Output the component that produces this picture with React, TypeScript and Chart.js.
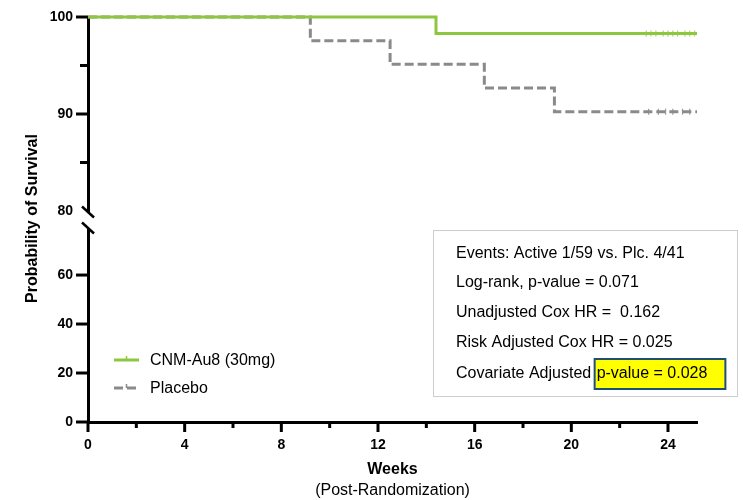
import React, { useEffect, useRef } from "react";
import { Chart, registerables } from "chart.js";

Chart.register(...registerables);

// ---- data ----
const weekTicks = [0, 4, 8, 12, 16, 20, 24];
const weekMinorTicks = [2, 6, 10, 14, 18, 22];
const topTicks = [80, 85, 90, 95, 100];
const topLabeledTicks = [80, 90, 100];
const bottomTicks = [0, 20, 40, 60];

const seriesNames = ["CNM-Au8 (30mg)", "Placebo"];
const cnmWeeks = [0, 14.4, 25.2];
const cnmSurvival = [100, 98.3, 98.3];
const placeboWeeks = [0, 9.2, 12.5, 16.4, 19.3, 25.2];
const placeboSurvival = [100, 97.56, 95.12, 92.68, 90.24, 90.24];
const cnmCensorWeeks = [23.1, 23.3, 23.5, 23.8, 24.0, 24.2, 24.4, 24.7, 24.9, 25.1];
const placeboCensorWeeks = [23.2, 23.6, 23.9, 24.2, 24.6, 24.9];

const statsLines = [
  "Events: Active 1/59 vs. Plc. 4/41",
  "Log-rank, p-value = 0.071",
  "Unadjusted Cox HR =  0.162",
  "Risk Adjusted Cox HR = 0.025",
  "Covariate Adjusted ",
];
const statsHighlight = "p-value = 0.028";
const yTitle = "Probability of Survival";
const xTitle = "Weeks";
const xSubTitle = "(Post-Randomization)";

const GREEN = "#8dc63f";
const GRAY = "#8a8a8a";
const FONT = "'Liberation Sans', Arial, sans-serif";

const decorPlugin = {
  id: "decor",
  beforeDatasetsDraw(chart: any) {
    const ctx = chart.ctx;
    const x = chart.scales.x;
    const yTop = chart.scales.yTop;
    const yBot = chart.scales.yBottom;
    const axisX = chart.chartArea.left;
    const axisY = chart.chartArea.bottom;
    ctx.save();
    ctx.strokeStyle = "#000";
    ctx.lineWidth = 3;
    ctx.lineCap = "butt";
    const hline = (py: number, len: number) => {
      ctx.beginPath();
      ctx.moveTo(axisX - len, py);
      ctx.lineTo(axisX, py);
      ctx.stroke();
    };
    topTicks.forEach((v) => {
      if (v === 80) return;
      hline(yTop.getPixelForValue(v), topLabeledTicks.includes(v) ? 12 : 8);
    });
    bottomTicks.forEach((v) => hline(yBot.getPixelForValue(v), 12));
    const vline = (px: number, len: number) => {
      ctx.beginPath();
      ctx.moveTo(px, axisY);
      ctx.lineTo(px, axisY + len);
      ctx.stroke();
    };
    weekTicks.forEach((w) => vline(x.getPixelForValue(w), 10));
    weekMinorTicks.forEach((w) => vline(x.getPixelForValue(w), 6));
    // axis break marks
    const b1 = yTop.bottom;
    const b2 = yBot.top;
    ctx.lineWidth = 2.5;
    [b1 + 1, b2 - 1].forEach((cy) => {
      ctx.beginPath();
      ctx.moveTo(axisX - 6, cy - 5.5);
      ctx.lineTo(axisX + 6, cy + 5.5);
      ctx.stroke();
    });
    ctx.restore();
  },
  afterDraw(chart: any) {
    const ctx = chart.ctx;
    const area = chart.chartArea;
    ctx.save();
    // y title
    ctx.fillStyle = "#000";
    ctx.font = `bold 16px ${FONT}`;
    ctx.textAlign = "center";
    ctx.textBaseline = "middle";
    ctx.translate(33, (area.top + area.bottom) / 2 - 1);
    ctx.rotate(-Math.PI / 2);
    ctx.fillText(yTitle, 0, 0);
    ctx.restore();

    ctx.save();
    const cx = (area.left + area.right) / 2;
    ctx.fillStyle = "#000";
    ctx.textAlign = "center";
    ctx.textBaseline = "middle";
    ctx.font = `bold 16px ${FONT}`;
    ctx.fillText(xTitle, cx, area.bottom + 48);
    ctx.font = `16px ${FONT}`;
    ctx.fillText(xSubTitle, cx, area.bottom + 69);

    // legend
    const lx = area.left + 26;
    const rows = [area.bottom - 62, area.bottom - 34];
    ctx.textAlign = "left";
    ctx.font = `16px ${FONT}`;
    seriesNames.forEach((name, i) => {
      const ly = rows[i];
      ctx.strokeStyle = i === 0 ? GREEN : GRAY;
      ctx.lineWidth = 3;
      ctx.setLineDash(i === 0 ? [] : [9, 4]);
      ctx.beginPath();
      ctx.moveTo(lx, ly);
      ctx.lineTo(lx + 25, ly);
      ctx.stroke();
      ctx.setLineDash([]);
      ctx.lineWidth = 1.5;
      ctx.beginPath();
      ctx.moveTo(lx + 12.5, ly - 4);
      ctx.lineTo(lx + 12.5, ly);
      ctx.stroke();
      ctx.fillStyle = "#000";
      ctx.fillText(name, lx + 36, ly + 1);
    });

    // stats box
    const bx = 433.5, by = 230.5, bw = 304, bh = 166;
    ctx.strokeStyle = "#9a9a9a";
    ctx.lineWidth = 1;
    ctx.setLineDash([1, 1]);
    ctx.strokeRect(bx, by, bw, bh);
    ctx.setLineDash([]);
    const tx = 456;
    const ys = [254, 283, 313, 343, 374];
    ctx.font = `16px ${FONT}`;
    ctx.fillStyle = "#000";
    statsLines.forEach((t, i) => ctx.fillText(t, tx, ys[i]));
    const hx = tx + ctx.measureText(statsLines[4]).width - 1;
    const hw = ctx.measureText(statsHighlight).width + 20;
    ctx.fillStyle = "#ffff00";
    ctx.fillRect(hx, 359, hw, 30);
    ctx.strokeStyle = "#1f4e79";
    ctx.lineWidth = 2;
    ctx.strokeRect(hx, 359, hw, 30);
    ctx.fillStyle = "#000";
    ctx.fillText(statsHighlight, hx + 2, ys[4]);
    ctx.restore();
  },
};

export default function App() {
  const ref = useRef<HTMLCanvasElement>(null);
  useEffect(() => {
    document.body.style.margin = "0";
    const tickFont = { family: FONT, size: 14, weight: "bold" as const };
    const yCommon = {
      type: "linear" as const,
      position: "left" as const,
      stack: "ystack",
      afterFit: (s: any) => {
        s.width = 88;
      },
      grid: { display: false, drawTicks: true, tickLength: 12 },
      border: { display: true, color: "#000", width: 3 },
    };
    const chart = new Chart(ref.current!, {
      type: "line",
      data: {
        datasets: [
          {
            label: seriesNames[0],
            data: cnmWeeks.map((w, i) => ({ x: w, y: cnmSurvival[i] })),
            borderColor: GREEN,
            borderWidth: 3,
            stepped: "before",
            pointRadius: 0,
            fill: false,
            clip: false as any,
            xAxisID: "x",
            yAxisID: "yTop",
          },
          {
            label: "cnm-censor",
            data: cnmCensorWeeks.map((w) => ({ x: w, y: cnmSurvival[cnmSurvival.length - 1] })),
            showLine: false,
            pointStyle: "line",
            rotation: 90,
            pointRadius: 3,
            pointBorderWidth: 1.2,
            pointBorderColor: "#a8d46a",
            clip: false as any,
            xAxisID: "x",
            yAxisID: "yTop",
          },
          {
            label: seriesNames[1],
            data: placeboWeeks.map((w, i) => ({ x: w, y: placeboSurvival[i] })),
            borderColor: GRAY,
            borderWidth: 3,
            borderDash: [9, 4],
            stepped: "before",
            pointRadius: 0,
            fill: false,
            clip: false as any,
            xAxisID: "x",
            yAxisID: "yTop",
          },
          {
            label: "placebo-censor",
            data: placeboCensorWeeks.map((w) => ({ x: w, y: placeboSurvival[placeboSurvival.length - 1] })),
            showLine: false,
            pointStyle: "line",
            rotation: 90,
            pointRadius: 3,
            pointBorderWidth: 1.2,
            pointBorderColor: "#9a9a9a",
            clip: false as any,
            xAxisID: "x",
            yAxisID: "yTop",
          },
        ],
      },
      options: {
        responsive: false,
        animation: false,
        events: [],
        layout: { padding: { top: 17, right: 46, left: 0, bottom: 0 } },
        plugins: { legend: { display: false }, tooltip: { enabled: false } },
        scales: {
          x: {
            type: "linear",
            position: "bottom",
            min: 0,
            max: 25.2,
            afterBuildTicks: (s: any) => {
              s.ticks = weekTicks.map((v) => ({ value: v }));
            },
            afterFit: (s: any) => {
              s.height = 78;
            },
            ticks: { color: "#000", font: tickFont, padding: 3, maxRotation: 0, autoSkip: false },
            grid: { display: false, drawTicks: true, tickLength: 12 },
            border: { display: true, color: "#000", width: 3 },
          },
          yBottom: {
            ...yCommon,
            stackWeight: 193,
            min: 0,
            max: 78.8,
            afterBuildTicks: (s: any) => {
              s.ticks = bottomTicks.map((v) => ({ value: v }));
            },
            ticks: { color: "#000", font: tickFont, padding: 3, autoSkip: false },
          },
          yGap: {
            ...yCommon,
            stackWeight: 18,
            min: 0,
            max: 1,
            ticks: { display: false },
            border: { display: false },
          },
          yTop: {
            ...yCommon,
            stackWeight: 194,
            min: 80,
            max: 100,
            afterBuildTicks: (s: any) => {
              s.ticks = topTicks.map((v) => ({ value: v }));
            },
            ticks: {
              color: "#000",
              font: tickFont,
              padding: 3,
              autoSkip: false,
              callback: (v: any) => (topLabeledTicks.includes(v) ? String(v) : ""),
            },
          },
        } as any,
      },
      plugins: [decorPlugin],
    });
    return () => chart.destroy();
  }, []);
  return (
    <div style={{ width: 743, height: 500, background: "#fff" }}>
      <canvas ref={ref} width={743} height={500} style={{ display: "block" }} />
    </div>
  );
}
